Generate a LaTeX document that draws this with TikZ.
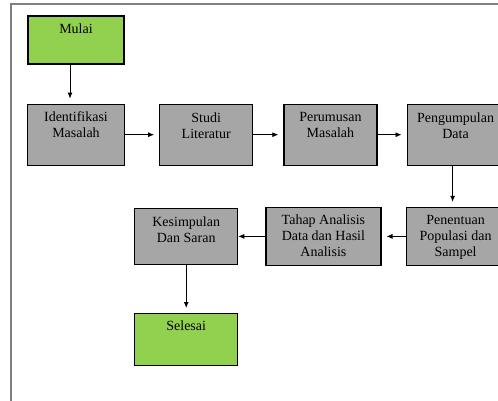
\documentclass[tikz,border=0pt]{standalone}
\usepackage{fontspec}
\setmainfont{Liberation Serif}
\usetikzlibrary{positioning, arrows.meta}

\definecolor{startgreen}{HTML}{92D050}
\definecolor{boxgray}{HTML}{A6A6A6}
\definecolor{framegray}{HTML}{808080}

\begin{document}
\begin{tikzpicture}[
  x=1pt, y=-1pt,
  box/.style={draw, line width=1.2pt, fill=boxgray, minimum height=61pt, inner sep=0pt},
  endbox/.style={box, fill=startgreen},
  txt/.style={align=center, inner sep=0pt, font=\fontsize{14}{16}\selectfont},
  every edge/.style={draw, line width=0.8pt, -{Latex[length=6pt,width=5pt]}, shorten >=5pt}
]
\clip (0,0) rectangle (498,400);
\draw[framegray, line width=1.5pt] (11,4) rectangle (520,420);

% first row
\node[endbox, minimum width=96pt, minimum height=48pt] at (76,40) (mulai) {};
\node[box, minimum width=97pt, below=39pt of mulai] (idf) {};
\node[box, minimum width=93pt, right=34pt of idf] (studi) {};
\node[box, minimum width=93pt, right=30pt of studi] (rumus) {};
\node[box, minimum width=97pt, right=29pt of rumus] (kumpul) {};

% second row, right to left
\node[box, minimum width=99pt, minimum height=58pt, below=41pt of kumpul] (tentu) {};
\node[box, minimum width=115pt, minimum height=58pt, left=24pt of tentu] (tahap) {};
\node[box, minimum width=103pt, minimum height=56pt, left=27pt of tahap] (simpul) {};
\node[endbox, minimum width=103pt, minimum height=52pt, below=48pt of simpul] (selesai) {};

% texts sit near the top of each box
\node[txt, below=8pt of mulai.north] (mulaitxt) {Mulai};
\node[txt, below=8pt of idf.north] (idftxt) {Identifikasi\\Masalah};
\node[txt, below=9pt of studi.north] (studitxt) {Studi\\Literatur};
\node[txt, below=9pt of rumus.north] (rumustxt) {Perumusan\\Masalah};
\node[txt, below=9pt of kumpul.north] (kumpultxt) {Pengumpulan\\Data};
\node[txt, below=8pt of tentu.north] (tentutxt) {Penentuan\\Populasi dan\\Sampel};
\node[txt, below=8pt of tahap.north] (tahaptxt) {Tahap Analisis\\Data dan Hasil\\Analisis};
\node[txt, below=9pt of simpul.north] (simpultxt) {Kesimpulan\\Dan Saran};
\node[txt, below=8pt of selesai.north] (selesaitxt) {Selesai};

\draw ([xshift=-6pt]mulai.south) edge ([xshift=-6pt]mulai.south |- idf.north);
\draw (idf) edge (studi);
\draw (studi) edge (rumus);
\draw (rumus) edge (kumpul);
\draw ([xshift=-3pt]kumpul.south) edge ([xshift=-3pt]kumpul.south |- tentu.north);
\draw (tentu) edge (tahap);
\draw (tahap) edge[shorten >=0pt] (simpul);
\draw (simpul) edge (selesai);
\end{tikzpicture}
\end{document}
